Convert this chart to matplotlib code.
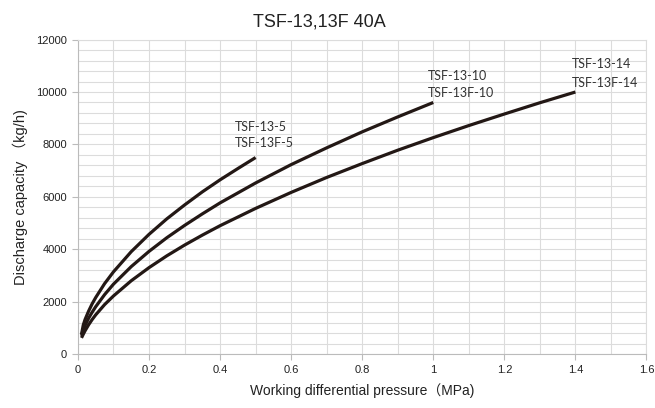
import matplotlib
matplotlib.use("Agg")
import matplotlib.pyplot as plt
from matplotlib.ticker import MultipleLocator

# values
x_5 = [0.01, 0.015, 0.02, 0.03, 0.04, 0.05, 0.075, 0.1, 0.15, 0.2, 0.25, 0.3, 0.35, 0.4, 0.45, 0.5]
q_5 = [760, 1110, 1320, 1640, 1920, 2160, 2690, 3140, 3910, 4570, 5160, 5690, 6190, 6650, 7080, 7500]

x_10 = [0.01, 0.015, 0.02, 0.03, 0.04, 0.05, 0.075, 0.1, 0.15, 0.2, 0.25, 0.3, 0.35, 0.4,
        0.5, 0.6, 0.7, 0.8, 0.9, 1.0]
q_10 = [700, 920, 1090, 1370, 1600, 1810, 2270, 2670, 3340, 3920, 4440, 4910, 5350, 5770,
        6530, 7230, 7870, 8480, 9050, 9600]

x_14 = [0.01, 0.015, 0.02, 0.03, 0.04, 0.05, 0.075, 0.1, 0.15, 0.2, 0.25, 0.3, 0.35, 0.4,
        0.5, 0.6, 0.7, 0.8, 0.9, 1.0, 1.1, 1.2, 1.3, 1.4]
q_14 = [620, 760, 890, 1120, 1320, 1500, 1890, 2220, 2800, 3300, 3750, 4160, 4540, 4900,
        5560, 6170, 6740, 7270, 7780, 8260, 8720, 9160, 9590, 10000]

labels_5 = ["TSF-13-5", "TSF-13F-5"]
labels_10 = ["TSF-13-10", "TSF-13F-10"]
labels_14 = ["TSF-13-14", "TSF-13F-14"]

title = "TSF-13,13F 40A"
xlabel = "Working differential pressure（MPa)"
ylabel = "Discharge capacity （kg/h)"

line_col = "#231815"
grid_col = "#dcdcdc"
text_col = "#222222"
fam = ["Liberation Sans", "Noto Sans CJK JP"]

fig = plt.figure(figsize=(6.55, 4.08), dpi=100)
ax = fig.add_axes([0.119, 0.132, 0.868, 0.771])

for xs, qs in [(x_5, q_5), (x_10, q_10), (x_14, q_14)]:
    ax.plot(xs, qs, color=line_col, lw=2.3, solid_capstyle="butt", zorder=3)

ax.set_xlim(0, 1.6)
ax.set_ylim(0, 12000)
ax.xaxis.set_major_locator(MultipleLocator(0.2))
ax.xaxis.set_minor_locator(MultipleLocator(0.1))
ax.yaxis.set_major_locator(MultipleLocator(2000))
ax.yaxis.set_minor_locator(MultipleLocator(400))
ax.grid(which="both", color=grid_col, lw=0.8)
ax.set_axisbelow(True)

for s in ax.spines.values():
    s.set_color(grid_col)
    s.set_linewidth(0.8)
ax.spines["left"].set_color("#bbbbbb")
ax.spines["bottom"].set_color("#bbbbbb")

ax.tick_params(which="major", length=4, color="#bbbbbb", labelcolor=text_col, labelsize=8, pad=4)
ax.tick_params(which="minor", length=0)
ax.xaxis.set_major_formatter(plt.FuncFormatter(lambda v, p: "0" if v == 0 else ("1" if abs(v - 1) < 1e-9 else f"{v:.1f}")))
for t in ax.get_xticklabels() + ax.get_yticklabels():
    t.set_family(fam)

ax.set_xlabel(xlabel, family=fam, fontsize=10, color=text_col, labelpad=6)
ax.set_ylabel(ylabel, family=fam, fontsize=10.5, color=text_col, labelpad=6)
fig.text(0.488, 0.936, title, family=fam, fontsize=13, color=text_col, ha="center", va="baseline")

ann = dict(family=["Lato", "DejaVu Sans"], fontsize=9, color="#333333", ha="left", va="center")
ax.text(0.443, 8660, labels_5[0], **ann)
ax.text(0.443, 8040, labels_5[1], **ann)
ax.text(0.985, 10610, labels_10[0], **ann)
ax.text(0.985, 9960, labels_10[1], **ann)
ax.text(1.39, 11080, labels_14[0], **ann)
ax.text(1.39, 10350, labels_14[1], **ann)

fig.savefig("out.png", dpi=100)
